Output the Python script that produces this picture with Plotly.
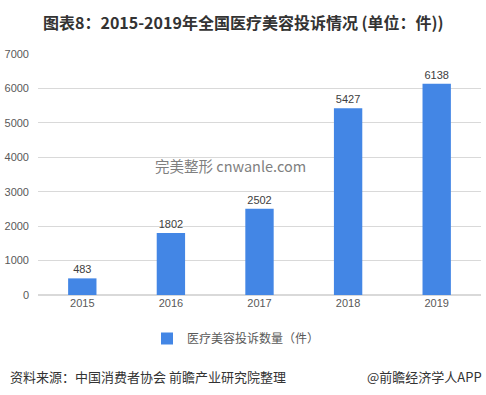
import plotly.graph_objects as go

years = ["2015", "2016", "2017", "2018", "2019"]
complaints = [483, 1802, 2502, 5427, 6138]
y_ticks = [0, 1000, 2000, 3000, 4000, 5000, 6000, 7000]

FONT = "Liberation Sans, Arial, Noto Sans CJK SC, sans-serif"
CJK = "Noto Sans CJK SC, Microsoft YaHei, sans-serif"

PL, PR, PT, PB = 38, 481, 54, 295
PW, PH = PR - PL, PB - PT

def px(x):
    return (x - PL) / PW

def py(y):
    return (PB - y) / PH

fig = go.Figure()
fig.add_trace(go.Bar(
    x=years, y=complaints,
    name="医疗美容投诉数量（件）",
    marker=dict(color="#4386E5", line=dict(width=0)),
    text=[str(v) for v in complaints],
    textposition="outside",
    textfont=dict(family=FONT, size=11, color="#404040"),
    cliponaxis=False,
))

fig.update_layout(
    width=486, height=395,
    margin=dict(l=PL, r=486 - PR, t=PT, b=395 - PB),
    paper_bgcolor="white", plot_bgcolor="white",
    bargap=0.68,
    showlegend=True,
    legend=dict(orientation="h", x=px(236), xanchor="center", y=py(324), yanchor="top",
                font=dict(family=CJK, size=12, color="#595959")),
    xaxis=dict(showgrid=False, showline=False, ticks="",
               tickfont=dict(family=FONT, size=11, color="#595959")),
    yaxis=dict(range=[0, 7000], tickvals=y_ticks, showgrid=True, gridcolor="#D9D9D9",
               gridwidth=1, zeroline=True, zerolinecolor="#D9D9D9", showline=False,
               ticks="", ticklabelstandoff=8,
               tickfont=dict(family=FONT, size=11, color="#595959")),
    font=dict(family=CJK),
    annotations=[
        dict(text="<b>图表8：2015-2019年全国医疗美容投诉情况 (单位：件))</b>",
             xref="paper", yref="paper", x=px(243), y=py(22), xanchor="center",
             yanchor="middle", showarrow=False,
             font=dict(family=CJK, size=16, color="#333333")),
        dict(text="完美整形 cnwanle.com", xref="paper", yref="paper",
             x=px(153), y=py(165), xanchor="left", yanchor="middle",
             showarrow=False, font=dict(family=CJK, size=14.5, color="#7F7F7F")),
        dict(text="资料来源：中国消费者协会 前瞻产业研究院整理", xref="paper", yref="paper",
             x=px(8), y=py(376), xanchor="left", yanchor="middle",
             showarrow=False, font=dict(family=CJK, size=13, color="#333333")),
        dict(text="@前瞻经济学人APP", xref="paper", yref="paper",
             x=px(484), y=py(376), xanchor="right", yanchor="middle",
             showarrow=False, font=dict(family=CJK, size=13, color="#333333")),
    ],
)

fig.write_html("out.html", config={"displayModeBar": False},
               post_script="document.body.style.margin='0';document.body.style.padding='0';")
